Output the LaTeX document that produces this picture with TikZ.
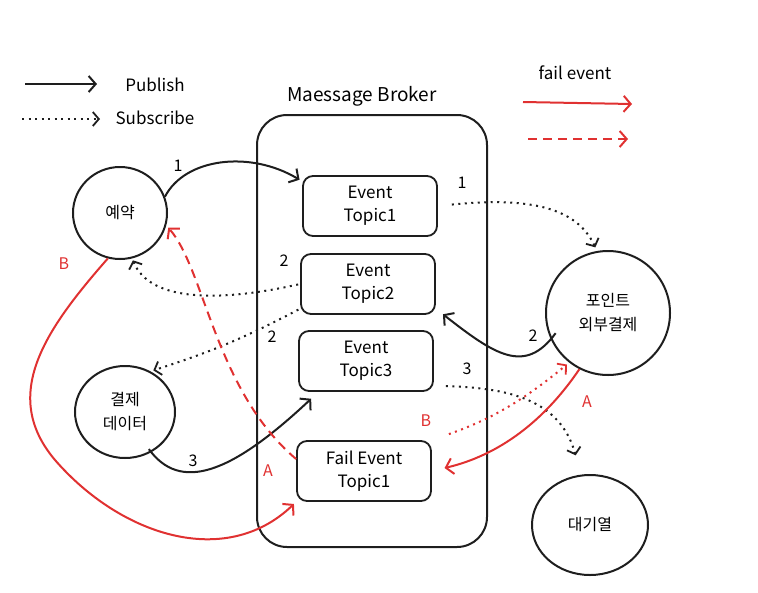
\documentclass[tikz,border=0pt]{standalone}
\usepackage{fontspec}
\setmainfont{Noto Sans CJK KR}
\usetikzlibrary{arrows.meta,shapes.geometric}
\definecolor{ink}{HTML}{1E1E1E}
\definecolor{inkred}{HTML}{E03131}
\tikzset{
	svc/.style={draw=ink,line width=2pt,ellipse,inner sep=0pt,align=center,font=\fontsize{16}{24}\selectfont},
	topic/.style={draw=ink,line width=1.8pt,rounded corners=10pt,minimum width=134pt,minimum height=60pt,align=center,font=\fontsize{17}{23}\selectfont},
	legend/.style={font=\fontsize{17}{20}\selectfont},
	num/.style={font=\fontsize{16}{18}\selectfont},
	redlbl/.style={text=inkred,font=\fontsize{16}{18}\selectfont},
	pub/.style={draw=ink,line width=2pt,-{Straight Barb[length=7pt,width=16pt,line width=2pt]}},
	sub/.style={draw=ink,line width=2pt,dash pattern=on 2pt off 4.5pt,-{Straight Barb[length=6pt,width=14pt,line width=1.8pt]}},
	failpub/.style={draw=inkred,line width=2pt,-{Straight Barb[length=7pt,width=16pt,line width=2pt]}},
	faildash/.style={draw=inkred,line width=2pt,dash pattern=on 9pt off 6pt,-{Straight Barb[length=7pt,width=16pt,line width=2pt]}},
	faildot/.style={draw=inkred,line width=2pt,dash pattern=on 2pt off 4.5pt,-{Straight Barb[length=6pt,width=14pt,line width=1.8pt]}}
}

\begin{document}
\begin{tikzpicture}[x=1pt,y=-1pt]
		\useasboundingbox (0,0) rectangle (758,592);
		%Legend
		\coordinate (pubfrom) at (25,84);
		\coordinate (pubto) at (97,84);
		\node[legend] (pubtxt) at (155,85) {Publish};
		\draw[pub] (pubfrom)--(pubto);
		\coordinate (subfrom) at (22,119);
		\coordinate (subto) at (100,119);
		\node[legend] (subtxt) at (155,118) {Subscribe};
		\draw[sub] (subfrom)--(subto);
		\node[legend] (failtxt) at (575,73) {fail event};
		\coordinate (ffrom) at (523,102);
		\coordinate (fto) at (632,104);
		\draw[failpub] (ffrom)--(fto);
		\coordinate (dfrom) at (528,139);
		\coordinate (dto) at (628,139);
		\draw[faildash] (dfrom)--(dto);
		%Broker
		\node[draw=ink,line width=2pt,rounded corners=30pt,minimum width=230pt,minimum height=432pt] (broker) at (372,331) {};
		\node[font=\fontsize{19}{21}\selectfont] (brokertxt) at (362,96) {Maessage Broker};
		\node[topic] (topic1) at (370,206) {Event\\Topic1};
		\node[topic] (topic2) at (368,284) {Event\\Topic2};
		\node[topic] (topic3) at (366,361) {Event\\Topic3};
		\node[topic] (failtopic) at (364,471) {Fail Event\\Topic1};
		%Services
		\node[svc,minimum width=94pt,minimum height=92pt] (reserve) at (120,213) {예약};
		\node[svc,minimum width=100pt,minimum height=92pt] (pay) at (125,412) {결제\\데이터};
		\node[svc,minimum size=124pt] (point) at (608,313) {포인트\\외부결제};
		\node[svc,minimum width=116pt,minimum height=100pt] (queue) at (590,525) {대기열};
		%Step 1
		\draw[pub,shorten >=3pt] (reserve.20) .. controls (185,158) and (250,150) .. (topic1.160);
		\node[num] (n1a) at (178,166) {1};
		\draw[sub,shorten <=14pt,shorten >=4pt] (topic1.east) .. controls (545,195) and (580,215) .. (point.100);
		\node[num] (n1b) at (462,183) {1};
		%Step 2
		\draw[pub,shorten <=-8pt,shorten >=9pt] (point.205) .. controls (525,375) and (495,355) .. (topic2.-20);
		\node[num] (n2a) at (533,336) {2};
		\draw[sub,shorten <=2pt,shorten >=2pt] (topic2.west) .. controls (220,302) and (150,302) .. (reserve.-75);
		\node[num] (n2b) at (284,261) {2};
		\draw[sub,shorten <=2pt,shorten >=3pt] (topic2.200) to[bend left=5] (pay.58);
		\node[num] (n2c) at (272,337) {2};
		%Step 3
		\draw[pub,shorten <=-4pt,shorten >=10pt] (pay.-57) .. controls (180,492) and (230,475) .. (topic3.-147);
		\node[num] (n3a) at (193,461) {3};
		\draw[sub,shorten <=12pt,shorten >=20pt] (topic3.-20) .. controls (510,388) and (560,400) .. (queue.100);
		\node[num] (n3b) at (467,369) {3};
		%Fail A
		\draw[failpub,shorten >=13pt] (point.243) .. controls (545,420) and (500,455) .. (failtopic.east);
		\node[redlbl] (la1) at (587,402) {A};
		\draw[faildash,shorten >=3pt] (failtopic.170) .. controls (215,390) and (205,270) .. (reserve.-15);
		\node[redlbl] (la2) at (268,471) {A};
		%Fail B
		\draw[failpub,shorten >=3pt] (reserve.-105) .. controls (45,330) and (0,395) .. (55,460)
			.. controls (120,535) and (225,570) .. (failtopic.south west);
		\node[redlbl] (lb1) at (64,264) {B};
		\draw[faildot,shorten <=18pt,shorten >=3pt] (failtopic.north east) to[bend right=10] (point.232);
		\node[redlbl] (lb2) at (426,421) {B};
\end{tikzpicture}
\end{document}
